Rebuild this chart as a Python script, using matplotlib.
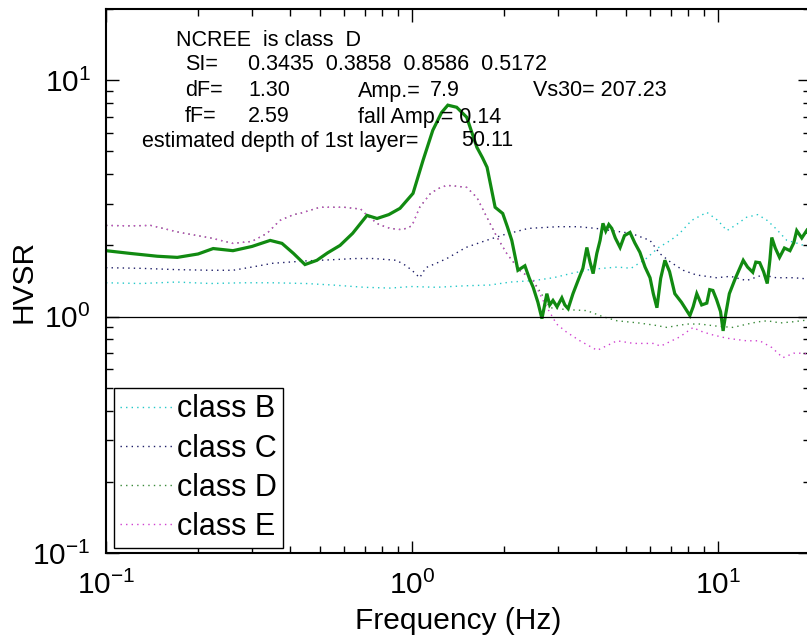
import numpy as np
import matplotlib
matplotlib.use('Agg')
import matplotlib.pyplot as plt
from matplotlib.ticker import LogLocator, NullFormatter

plt.rcParams['font.family'] = ['Liberation Sans', 'DejaVu Sans']
plt.rcParams['mathtext.fontset'] = 'custom'
plt.rcParams['mathtext.rm'] = 'Liberation Sans'
plt.rcParams['mathtext.it'] = 'Liberation Sans:italic'
plt.rcParams['mathtext.bf'] = 'Liberation Sans:bold'

# --- data ---

# NCREE station HVSR (solid green)
freq_ncree = [0.10, 0.12, 0.147, 0.171, 0.20, 0.224, 0.26, 0.30, 0.344, 0.376,
              0.41, 0.447, 0.489, 0.53, 0.582, 0.64, 0.713, 0.769, 0.84, 0.914,
              1.008, 1.087, 1.17, 1.25, 1.31, 1.40, 1.51, 1.63, 1.70, 1.76,
              1.87, 1.98, 2.05, 2.12, 2.22, 2.34, 2.42, 2.49, 2.58, 2.66,
              2.76, 2.82, 2.89, 2.98, 3.09, 3.16, 3.24, 3.36, 3.49, 3.62,
              3.73, 3.82, 3.91, 4.02, 4.12, 4.21, 4.30, 4.40, 4.50, 4.62,
              4.79, 4.95, 5.16, 5.35, 5.56, 5.78, 6.0, 6.15, 6.32, 6.50,
              6.71, 6.95, 7.23, 7.60, 8.10, 8.30, 8.53, 8.85, 9.2, 9.40,
              9.63, 9.9, 10.2, 10.4, 10.6, 10.9, 11.4, 12.1, 12.5, 13.0,
              13.3, 13.7, 14.1, 14.5, 14.8, 15.0, 15.4, 15.9, 16.5, 17.2,
              17.7, 18.1, 18.8, 19.5, 20.0]
hvsr_ncree = [1.90, 1.85, 1.80, 1.78, 1.84, 1.94, 1.90, 1.98, 2.10, 2.04,
              1.85, 1.66, 1.73, 1.86, 2.00, 2.25, 2.68, 2.60, 2.70, 2.87,
              3.32, 4.58, 6.14, 7.30, 7.84, 7.68, 6.97, 5.20, 4.70, 4.28,
              2.90, 2.73, 2.40, 2.10, 1.57, 1.64, 1.45, 1.33, 1.15, 0.98,
              1.25, 1.12, 1.17, 1.10, 1.20, 1.12, 1.08, 1.25, 1.42, 1.60,
              1.96, 1.70, 1.52, 1.85, 2.10, 2.48, 2.30, 2.45, 2.36, 2.15,
              1.96, 2.20, 2.27, 2.05, 1.87, 1.62, 1.46, 1.25, 1.09, 1.45,
              1.73, 1.55, 1.25, 1.15, 1.01, 1.10, 1.25, 1.12, 1.14, 1.30,
              1.29, 1.18, 1.05, 0.87, 1.02, 1.25, 1.45, 1.73, 1.62, 1.54,
              1.70, 1.69, 1.55, 1.38, 1.75, 2.16, 1.95, 1.78, 1.95, 1.90,
              2.05, 2.31, 2.15, 2.31, 2.20]

# class B average (cyan dotted)
freq_b = [0.10, 0.13, 0.17, 0.22, 0.28, 0.35, 0.45, 0.55, 0.7, 0.85,
          1.0, 1.2, 1.5, 1.8, 2.1, 2.5, 2.9, 3.3, 3.8, 4.2,
          4.7, 5.2, 5.8, 6.4, 7.0, 7.5, 8.2, 9.2, 10.0, 10.7,
          11.5, 12.4, 13.5, 14.5, 15.5, 16.8, 18.0, 20.0]
hvsr_b = [1.39, 1.38, 1.40, 1.38, 1.39, 1.39, 1.38, 1.36, 1.33, 1.32,
          1.34, 1.33, 1.35, 1.36, 1.40, 1.42, 1.46, 1.52, 1.58, 1.60,
          1.62, 1.60, 1.75, 1.96, 2.10, 2.25, 2.55, 2.76, 2.55, 2.31,
          2.45, 2.63, 2.70, 2.55, 2.35, 2.10, 2.05, 1.96]

# class C average (navy dotted)
freq_c = [0.10, 0.13, 0.17, 0.22, 0.26, 0.30, 0.35, 0.45, 0.55, 0.65,
          0.75, 0.89, 0.95, 1.0, 1.06, 1.11, 1.2, 1.3, 1.5, 1.75,
          2.0, 2.4, 3.0, 3.5, 4.0, 4.5, 5.2, 6.0, 6.45, 7.0,
          7.7, 8.5, 9.9, 11.0, 12.4, 14.0, 15.5, 17.7, 20.0]
hvsr_c = [1.61, 1.60, 1.58, 1.57, 1.57, 1.62, 1.68, 1.72, 1.74, 1.76,
          1.76, 1.73, 1.65, 1.57, 1.46, 1.61, 1.68, 1.76, 1.96, 2.10,
          2.22, 2.36, 2.40, 2.40, 2.36, 2.31, 2.25, 2.10, 1.85, 1.70,
          1.57, 1.50, 1.46, 1.48, 1.42, 1.50, 1.46, 1.46, 1.44]

# classes D and E run together below 2.5 Hz
freq_de_low = [0.10, 0.12, 0.14, 0.174, 0.22, 0.26, 0.30, 0.336, 0.37, 0.41,
               0.43, 0.50, 0.60, 0.68, 0.72, 0.78, 0.85, 0.93, 1.0, 1.06,
               1.15, 1.22, 1.30, 1.40, 1.51, 1.63, 1.76, 1.90, 2.04, 2.25,
               2.49]
hvsr_de_low = [2.43, 2.42, 2.43, 2.27, 2.15, 2.04, 2.08, 2.25, 2.55, 2.70,
               2.73, 2.90, 2.90, 2.85, 2.65, 2.45, 2.36, 2.33, 2.42, 2.90,
               3.32, 3.48, 3.59, 3.56, 3.52, 3.19, 2.62, 2.16, 1.85, 1.57,
               1.42]

# class D above 2.5 Hz (green dotted)
freq_d_high = [2.7, 2.83, 3.2, 3.73, 4.2, 4.68, 5.5, 6.2, 6.81, 7.5,
               8.0, 8.73, 10.0, 11.2, 12.5, 13.5, 14.5, 16.0, 17.5, 20.0]
hvsr_d_high = [1.20, 1.09, 1.07, 1.06, 1.00, 0.96, 0.94, 0.92, 0.90, 0.92,
               0.93, 0.93, 0.91, 0.90, 0.93, 0.95, 0.96, 0.94, 0.95, 0.97]

# class E above 2.5 Hz (magenta dotted)
freq_e_high = [2.7, 2.97, 3.2, 3.54, 4.03, 4.4, 4.68, 5.3, 6.14, 6.5,
               7.5, 8.3, 8.73, 9.5, 10.7, 12.4, 13.7, 15.0, 16.3, 17.7,
               19.0, 20.0]
hvsr_e_high = [1.15, 0.93, 0.86, 0.79, 0.72, 0.76, 0.79, 0.77, 0.77, 0.75,
               0.82, 0.90, 0.87, 0.84, 0.81, 0.79, 0.79, 0.74, 0.67, 0.70,
               0.70, 0.69]

class_names = ['class B', 'class C', 'class D', 'class E']
class_colors = ['#22c8c8', '#1c1c66', '#3a8a3a', '#d040d0']

info_lines = [
    ('NCREE  is class  D', 176, 40),
    ('SI=', 185, 65), ('0.3435  0.3858  0.8586  0.5172', 248, 65),
    ('dF=', 185, 91), ('1.30', 248, 91), ('Amp.=', 358, 91), ('7.9', 430, 91),
    ('Vs30= 207.23', 533, 91),
    ('fF=', 185, 117), ('2.59', 248, 117), ('fall Amp.= 0.14', 358, 117),
    ('estimated depth of 1st layer=', 142, 141), ('50.11', 461, 141),
]

# --- figure ---
W, H = 807, 642
fig = plt.figure(figsize=(W / 100, H / 100), dpi=100)
ax = fig.add_axes([106 / W, (H - 553) / H, 704 / W, 544 / H])
ax.set_xscale('log')
ax.set_yscale('log')

dots = (0, (1, 3))
class_freqs = [freq_b, freq_c, freq_de_low + freq_d_high, freq_de_low + freq_e_high]
class_vals = [hvsr_b, hvsr_c, hvsr_de_low + hvsr_d_high, hvsr_de_low + hvsr_e_high]
handles = []
for f, v, name, col in zip(class_freqs, class_vals, class_names, class_colors):
    ln, = ax.plot(f, v, linestyle=dots, color=col, lw=1.0, label=name)
    handles.append(ln)

ax.plot(freq_ncree, hvsr_ncree, color='#118a11', lw=2.3, solid_joinstyle='miter')
ax.axhline(1, color='k', lw=0.9)

ax.set_xlim(0.1, 20)
ax.set_ylim(0.1, 20)

for axis in (ax.xaxis, ax.yaxis):
    axis.set_major_locator(LogLocator(base=10))
    axis.set_minor_locator(LogLocator(base=10, subs=np.arange(2, 10)))
    axis.set_minor_formatter(NullFormatter())
ax.tick_params(which='both', direction='in', top=True, right=True, width=1.0)
ax.tick_params(which='major', length=9, labelsize=21.5)
ax.tick_params(which='minor', length=5)
ax.tick_params(axis='x', pad=13)
ax.tick_params(axis='y', pad=11)
for s in ax.spines.values():
    s.set_linewidth(1.5)

ax.set_xlabel('Frequency (Hz)', fontsize=21.5, labelpad=5)
ax.set_ylabel('HVSR', fontsize=21.5, labelpad=-4)

for s, x, y in info_lines:
    fig.text(x / W, 1 - y / H, s, fontsize=15.5, ha='left', va='center')

leg = ax.legend(handles=handles, loc='lower left', bbox_to_anchor=(8 / 704, 5 / 544),
                borderaxespad=0, fontsize=22, frameon=True, fancybox=False,
                framealpha=1, edgecolor='k', handlelength=1.75, handletextpad=0.1,
                borderpad=0.2, labelspacing=0.3)
leg.get_frame().set_linewidth(1.0)

fig.savefig('out.png', dpi=100)
